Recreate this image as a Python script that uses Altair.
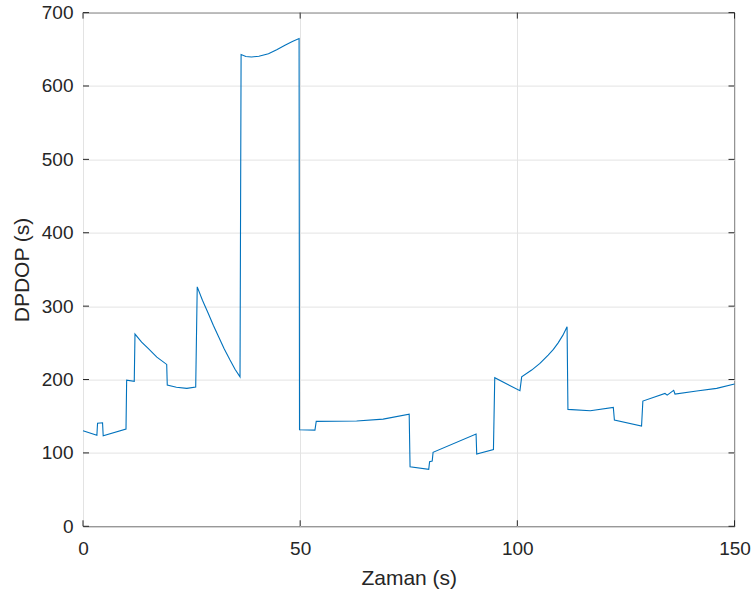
import altair as alt
import pandas as pd

# DPDOP time series (seconds)
time_s = [
    0, 3.2, 3.35, 4.5, 4.65, 9.9, 10.05, 11.8, 11.97, 13.5,
    15.0, 17.0, 19.27, 19.4, 21.5, 23.9, 25.95, 26.3, 27.5, 28.85,
    30.0, 31.25, 32.5, 33.85, 35.0, 36.15, 36.4, 37.5, 38.8, 40.5,
    42.7, 44.6, 46.5, 48.2, 49.75, 49.85, 53.4, 53.7, 63.0, 69.1,
    75.1, 75.3, 79.6, 79.8, 80.4, 80.6, 90.5, 90.65, 94.5, 94.8,
    100.6, 101.0, 103.3, 105.2, 107.1, 108.3, 109.4, 110.5, 111.45, 111.65,
    116.8, 122.1, 122.35, 128.6, 128.9, 134.0, 134.5, 136.0, 136.3, 141.3,
    145.9, 150.0,
]
dpdop_s = [
    130.2, 124.2, 140.5, 141.0, 123.5, 132.5, 199.2, 197.5, 261.9, 251.0,
    242.4, 230.5, 220.6, 192.4, 189.5, 187.9, 189.7, 326.3, 308.0, 290.0,
    274.0, 258.0, 242.0, 226.5, 214.0, 203.7, 642.8, 640.2, 639.5, 640.5,
    644.0, 649.5, 655.5, 660.5, 664.6, 131.6, 131.0, 143.0, 143.4, 146.1,
    152.9, 81.2, 77.6, 88.0, 89.0, 100.8, 125.7, 98.5, 104.5, 202.4,
    184.7, 203.7, 212.9, 222.0, 233.3, 241.0, 250.0, 260.5, 271.8, 159.3,
    157.4, 162.0, 144.8, 136.6, 170.6, 181.0, 178.8, 185.2, 180.2, 184.3,
    187.9, 193.8,
]
x_ticks = [0, 50, 100, 150]
y_ticks = [0, 100, 200, 300, 400, 500, 600, 700]

W, H = 651.5, 513.7
TEXT = "#262626"
FONT = "Liberation Sans"

df = pd.DataFrame({"i": range(len(time_s)), "t": time_s, "v": dpdop_s})
xt = pd.DataFrame({"t": x_ticks})
yt = pd.DataFrame({"v": y_ticks})

x_scale = alt.Scale(domain=[0, 150], nice=False, zero=False)
y_scale = alt.Scale(domain=[0, 700], nice=False, zero=False)

x_axis = alt.Axis(
    values=x_ticks, title="Zaman (s)", format="d", grid=True,
    ticks=False, domain=False, labelPadding=13, titlePadding=9,
    labelFlush=False, labelOverlap=False,
)
y_axis = alt.Axis(
    values=y_ticks, title="DPDOP (s)", format="d", grid=True,
    ticks=False, domain=False, labelPadding=10,
    labelFlush=False, labelOverlap=False,
    titleX=-61, titleY=H / 2, titleAlign="center", titleBaseline="middle",
)
X = alt.X("t:Q", scale=x_scale, axis=x_axis)
Y = alt.Y("v:Q", scale=y_scale, axis=y_axis)

line = alt.Chart(df).mark_line(color="#0072BD", strokeWidth=1.1).encode(
    x=X, y=Y, order=alt.Order("i:Q"),
)

# inward tick marks on all four sides of the box
tick_style = dict(color=TEXT, strokeWidth=1)
x_bottom = alt.Chart(xt).mark_rule(**tick_style).encode(
    x=X, y=alt.value(H), y2=alt.value(H - 6)
)
x_top = alt.Chart(xt).mark_rule(**tick_style).encode(
    x=X, y=alt.value(0), y2=alt.value(6)
)
y_left = alt.Chart(yt).mark_rule(**tick_style).encode(
    y=Y, x=alt.value(0), x2=alt.value(6)
)
y_right = alt.Chart(yt).mark_rule(**tick_style).encode(
    y=Y, x=alt.value(W), x2=alt.value(W - 6)
)

chart = (
    alt.layer(line, x_bottom, x_top, y_left, y_right)
    .properties(
        width=W, height=H,
        autosize=alt.AutoSizeParams(type="none"),
        padding={"left": 83, "top": 12.6, "right": 21.5, "bottom": 70.7},
        background="white",
    )
    .configure_view(stroke=TEXT, strokeWidth=1)
    .configure_axis(
        labelFont=FONT, titleFont=FONT, labelFontSize=19, titleFontSize=21,
        labelColor=TEXT, titleColor=TEXT, titleFontWeight="normal",
        gridColor="#e3e3e3", gridWidth=1,
    )
)

chart.save("out.html", embed_options={"renderer": "svg", "actions": False})
